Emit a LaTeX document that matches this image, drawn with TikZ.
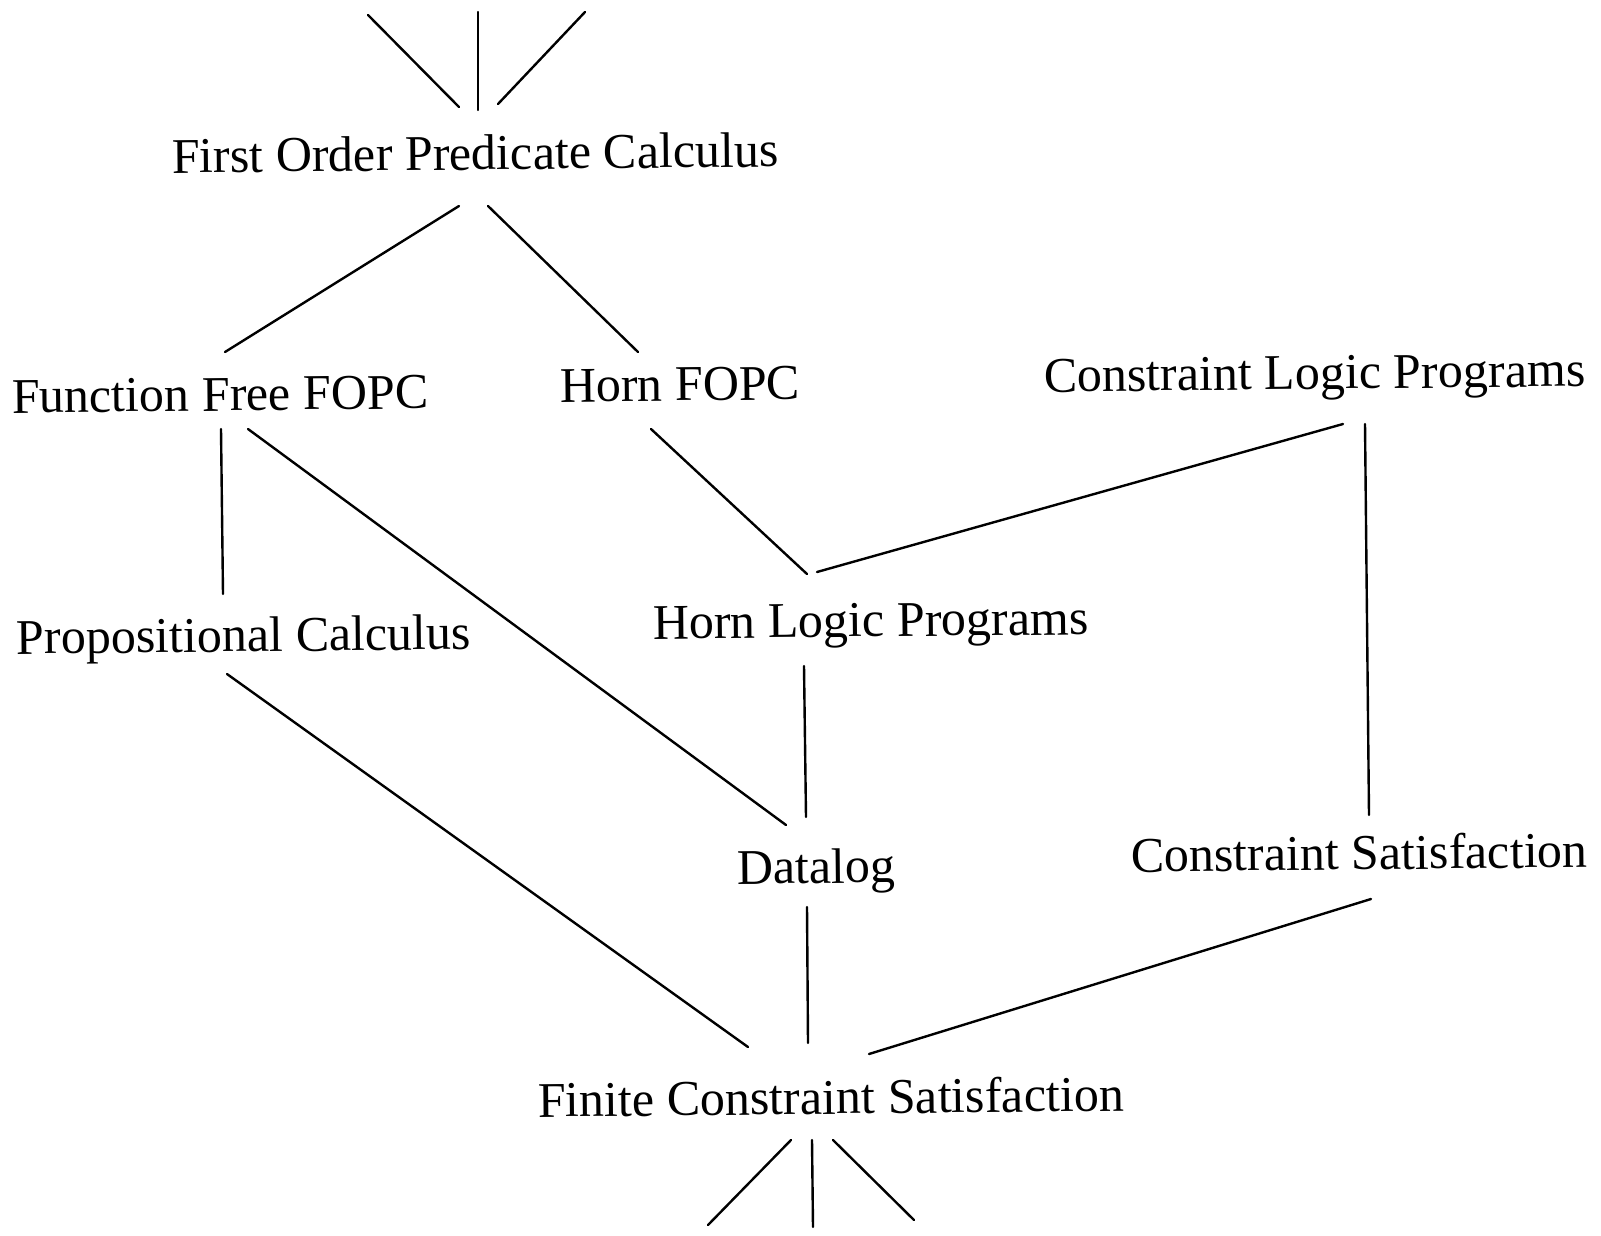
\documentclass[tikz,border=0pt]{standalone}
\usepackage{fontspec}
\setmainfont{Liberation Serif}
\usetikzlibrary{calc}
\tikzset{
  lbl/.style={anchor=base west, inner sep=0pt, outer sep=0pt, rotate=0.6,
              font=\fontsize{50}{60}\selectfont},
  link/.style={line width=2.4pt, line cap=round, black}
}
\begin{document}
\begin{tikzpicture}[x=1pt, y=-1pt]
  \useasboundingbox[fill=white] (0,0) rectangle (1601,1235);

  % lattice of logics
  \node[lbl] (fopc)  at (172,173)  {First Order Predicate Calculus};
  \node[lbl] (fff)   at (12,413)   {Function Free FOPC};
  \node[lbl] (hfopc) at (560,402)  {Horn FOPC};
  \node[lbl] (clp)   at (1044,392) {Constraint Logic Programs};
  \node[lbl] (pc)    at (17,654)   {Propositional Calculus};
  \node[lbl] (hlp)   at (653,639)  {Horn Logic Programs};
  \node[lbl] (dlog)  at (737,884)  {Datalog};
  \node[lbl] (cs)    at (1131,872) {Constraint Satisfaction};
  \node[lbl] (fcs)   at (538,1117) {Finite Constraint Satisfaction};

  % open ends above the top and below the bottom
  \coordinate (upL) at ($(fopc.base west)+(196,-158)$);
  \coordinate (upM) at ($(fopc.base west)+(306,-161)$);
  \coordinate (upR) at ($(fopc.base west)+(413,-161)$);
  \coordinate (dnL) at ($(fcs.base west)+(170,108)$);
  \coordinate (dnM) at ($(fcs.base west)+(275,110)$);
  \coordinate (dnR) at ($(fcs.base west)+(376,103)$);

  \draw[link] (upL) -- ($(fopc.base west)+(287,-66)$);
  \draw[link] (upM) -- ($(fopc.base west)+(306,-63)$);
  \draw[link] (upR) -- ($(fopc.base west)+(326,-69)$);

  \draw[link] ($(fopc.base west)+(287,33)$) -- ($(fff.base west)+(213,-61)$);
  \draw[link] ($(fopc.base west)+(316,33)$) -- ($(hfopc.base west)+(78,-50)$);

  \draw[link] ($(fff.base west)+(209,16)$) -- ($(pc.base west)+(206,-60)$);
  \draw[link] ($(fff.base west)+(236,16)$) -- ($(dlog.base west)+(49,-59)$);

  \draw[link] ($(hfopc.base west)+(91,27)$) -- ($(hlp.base west)+(154,-65)$);
  \draw[link] ($(clp.base west)+(299,32)$) -- ($(hlp.base west)+(164,-67)$);
  \draw[link] ($(clp.base west)+(321,32)$) -- ($(cs.base west)+(238,-57)$);

  \draw[link] ($(pc.base west)+(210,20)$) -- ($(fcs.base west)+(210,-70)$);
  \draw[link] ($(hlp.base west)+(151,27)$) -- ($(dlog.base west)+(69,-67)$);
  \draw[link] ($(dlog.base west)+(70,23)$) -- ($(fcs.base west)+(270,-74)$);
  \draw[link] ($(cs.base west)+(240,27)$) -- ($(fcs.base west)+(331,-63)$);

  \draw[link] ($(fcs.base west)+(253,23)$) -- (dnL);
  \draw[link] ($(fcs.base west)+(274,23)$) -- (dnM);
  \draw[link] ($(fcs.base west)+(295,23)$) -- (dnR);
\end{tikzpicture}
\end{document}
